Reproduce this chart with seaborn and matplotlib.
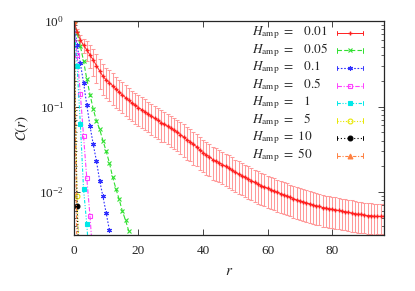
import numpy as np
import matplotlib
matplotlib.use('Agg')
import matplotlib.pyplot as plt
import seaborn as sns
from matplotlib.lines import Line2D

sns.set_style('ticks')
plt.rcParams['font.family'] = ['Liberation Serif', 'DejaVu Serif']
plt.rcParams['mathtext.fontset'] = 'stix'
plt.rcParams['xtick.direction'] = 'in'
plt.rcParams['ytick.direction'] = 'in'

# H_amp = 0.01 (with error bars), r = 0..96
red_r = np.arange(97)
red_c = [1.0, 0.75, 0.60, 0.52, 0.46, 0.40, 0.35, 0.30, 0.26, 0.225,
         0.205, 0.19, 0.175, 0.16, 0.148, 0.137, 0.127, 0.118, 0.110, 0.103,
         0.097, 0.092, 0.087, 0.082, 0.077, 0.073, 0.069, 0.065, 0.062, 0.059,
         0.056, 0.053, 0.050, 0.047, 0.044, 0.041, 0.039, 0.036, 0.034, 0.031,
         0.029, 0.027, 0.026, 0.024, 0.023, 0.022, 0.021, 0.020, 0.019, 0.018,
         0.017, 0.0163, 0.0156, 0.0149, 0.0142, 0.0136, 0.013, 0.0124, 0.0119, 0.0115,
         0.0111, 0.0107, 0.0103, 0.0099, 0.0096, 0.0093, 0.009, 0.0087, 0.0084, 0.0081,
         0.0079, 0.0077, 0.0075, 0.0073, 0.0071, 0.0069, 0.0068, 0.0066, 0.0065, 0.0064,
         0.0063, 0.0062, 0.0061, 0.0060, 0.0059, 0.0058, 0.0057, 0.0056, 0.0055, 0.0055,
         0.0054, 0.0053, 0.0053, 0.0052, 0.0052, 0.0052, 0.0052]
red_err = [0.0, 0.05, 0.08, 0.10, 0.12, 0.12, 0.12, 0.11, 0.10, 0.09,
           0.08, 0.075, 0.07, 0.063, 0.058, 0.054, 0.05, 0.046, 0.043, 0.04,
           0.038, 0.036, 0.034, 0.032, 0.03, 0.029, 0.027, 0.026, 0.024, 0.023,
           0.022, 0.021, 0.02, 0.019, 0.018, 0.017, 0.016, 0.015, 0.014, 0.013,
           0.012, 0.0113, 0.0107, 0.01, 0.0095, 0.009, 0.0086, 0.0082, 0.0078, 0.0074,
           0.007, 0.0067, 0.0064, 0.0061, 0.0058, 0.0056, 0.0053, 0.0051, 0.0049, 0.0047,
           0.0045, 0.0043, 0.0042, 0.004, 0.0039, 0.0037, 0.0036, 0.0035, 0.0034, 0.0033,
           0.0032, 0.0031, 0.003, 0.0029, 0.0029, 0.0028, 0.0027, 0.0027, 0.0026, 0.0026,
           0.0025, 0.0025, 0.0024, 0.0024, 0.0023, 0.0023, 0.0023, 0.0022, 0.0022, 0.0022,
           0.0021, 0.0021, 0.0021, 0.0021, 0.002, 0.002, 0.002]

green_c = [1.0, 0.72, 0.51, 0.34, 0.21, 0.138, 0.093, 0.068, 0.054, 0.040,
           0.030, 0.022, 0.015, 0.011, 0.0083, 0.0060, 0.0047, 0.0035]
blue_c = [1.0, 0.52, 0.32, 0.19, 0.104, 0.059, 0.036, 0.023, 0.0135, 0.0089, 0.0057, 0.0036]
magenta_c = [1.0, 0.40, 0.14, 0.045, 0.0145, 0.0052, 0.0015]
cyan_c = [1.0, 0.295, 0.063, 0.0108, 0.0042, 0.0012]
yellow_c = [1.0, 0.009, 0.0008]
black_c = [1.0, 0.0068, 0.0005]
orange_c = [1.0, 0.0015]

h_amp = ['0.01', '0.05', '0.1', '0.5', '1', '5', '10', '50']

fig = plt.figure(figsize=(4.15, 2.91), dpi=100)
ax = fig.add_axes([0.178, 0.192, 0.747, 0.736])

handles = []
eb = ax.errorbar(red_r, red_c, yerr=red_err, color='#ff2020', ecolor='#ff9a9a',
                 elinewidth=0.75, capsize=1.5, capthick=0.75, marker='+', ms=2.5, lw=0.7)
handles.append(eb[0])

styles = [
    (green_c, '#30e030', (0, (4, 2)), 'x', 'full'),
    (blue_c, '#3030ff', (0, (1.5, 1.5)), (6, 2, 0), 'full'),
    (magenta_c, '#ff40ff', (0, (4, 1.5, 1, 1.5)), 's', 'none'),
    (cyan_c, '#00e8e8', (0, (3, 1.5, 1, 1.5, 1, 1.5)), 's', 'full'),
    (yellow_c, '#e8e800', (0, (1, 1.5)), 'o', 'none'),
    (black_c, '#000000', (0, (1, 2)), 'o', 'full'),
    (orange_c, '#ff8040', (0, (3, 1.5, 1, 1.5)), '^', 'full'),
]
for vals, col, ls, mk, fill in styles:
    ln, = ax.plot(np.arange(len(vals)), vals, color=col, ls=ls, lw=0.8,
                  marker=mk, ms=3.5, fillstyle=fill, mew=0.8)
    handles.append(ln)

ax.set_yscale('log')
ax.set_xlim(0, 96)
ax.set_ylim(0.00314, 1)
ax.set_xticks([0, 20, 40, 60, 80])
ax.tick_params(which='both', top=True, right=True, labelsize=9.5, pad=7)
ax.tick_params(which='major', length=4, width=0.6)
ax.tick_params(which='minor', length=2, width=0.5)
for s in ax.spines.values():
    s.set_linewidth(0.9)

ax.set_xlabel(r'$r$', fontsize=11, labelpad=6)
ax.set_ylabel(r'$\mathcal{C}(r)$', fontsize=11, labelpad=6)

# gnuplot-style key: text left, sample line with end caps on the right
tx, sx0, sx1 = 0.576, 0.850, 0.934
y0, dy = 0.944, 0.0818
for i, (h, orig) in enumerate(zip(h_amp, handles)):
    y = y0 - i * dy
    pad = r'\ \ \ ' if h not in ('10', '50') else r'\ '
    ax.text(tx, y, r'$H_{\mathrm{amp}}\ =' + pad + r'\mathrm{' + h + '}$', transform=ax.transAxes,
            ha='left', va='center', fontsize=9.5)
    line = Line2D([sx0, sx1], [y, y])
    line.update_from(orig)
    line.set_marker('None')
    line.set_transform(ax.transAxes)
    line.set_clip_on(False)
    ax.add_line(line)
    mk = Line2D([(sx0 + sx1) / 2], [y])
    mk.update_from(orig)
    mk.set_linestyle('None')
    mk.set_transform(ax.transAxes)
    mk.set_clip_on(False)
    ax.add_line(mk)
    for x in (sx0, sx1):
        ax.add_line(Line2D([x, x], [y - 0.011, y + 0.011], transform=ax.transAxes,
                           color=orig.get_color(), lw=0.7))

fig.savefig('out.png', dpi=100)
